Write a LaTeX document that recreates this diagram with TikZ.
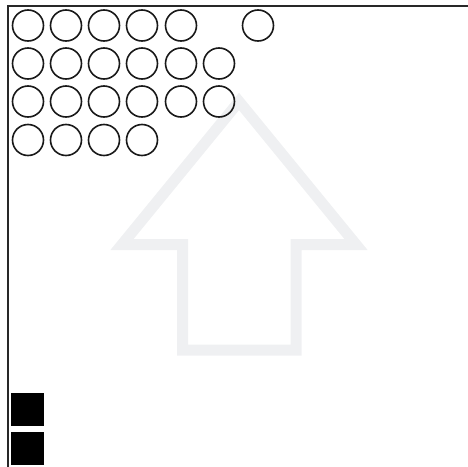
\documentclass[tikz,border=0pt]{standalone}
\usetikzlibrary{calc}
\definecolor{arrowgray}{RGB}{239,240,242}
\definecolor{framegray}{RGB}{40,40,40}
\begin{document}
\begin{tikzpicture}[x=1pt,y=-1pt,
  ring/.style={circle,draw=black!90,line width=1.6pt,minimum size=31pt,inner sep=0pt},
  blk/.style={rectangle,fill=black,minimum size=33pt,inner sep=0pt}]
\useasboundingbox (0,0) rectangle (468,466);
% frame
\draw[framegray,line width=2pt] (8.3,470) -- (8.3,6) -- (470,6);
% arrow
\draw[arrowgray,line width=11pt,miter limit=20] (239,101.5) -- (356,244.5) -- (296,244.5) -- (296,350) -- (182.5,350) -- (182.5,244.5) -- (122,244.5) -- cycle;
% circles
\foreach \i/\x in {1/28,2/66,3/104,4/142,5/181}{\node[ring] (a\i) at (\x,25.5) {};}
\node[ring] (a6) at (258,25.5) {};
\foreach \i/\x in {1/28,2/66,3/104,4/142,5/181,6/219}{\node[ring] (b\i) at (\x,63.5) {};}
\foreach \i/\x in {1/28,2/66,3/104,4/142,5/181,6/219}{\node[ring] (c\i) at (\x,101.5) {};}
\foreach \i/\x in {1/28,2/66,3/104,4/142}{\node[ring] (d\i) at (\x,140) {};}
% squares
\node[blk] (s1) at (27.5,409.5) {};
\node[blk] (s2) at (27.5,448.5) {};
\end{tikzpicture}
\end{document}
